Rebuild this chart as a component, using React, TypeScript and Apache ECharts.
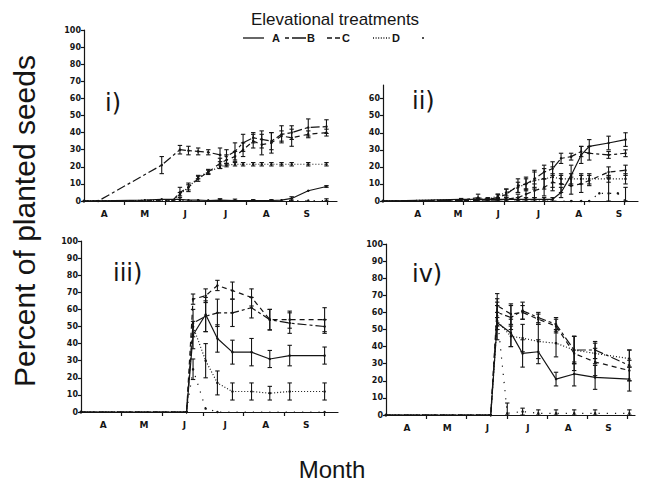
import React, { useEffect, useRef } from "react";
import * as echarts from "echarts";

// x values are months since 1 April (0 = 1 Apr, 1 = 1 May, ... 6 = 1 Oct)
const MONTHS = ["A", "M", "J", "J", "A", "S"];
const SERIES_NAMES = ["A", "B", "C", "D", "E"];

// Each point: [month, percent, error]
// Panel i)
const P1_A = [[0, 0, 0], [1.5, 0.5, 0], [1.92, 1, 0], [2.37, 1, 0], [2.58, 0.5, 0], [2.82, 0.5, 0], [3.07, 0.3, 0], [3.36, 0.5, 0.8], [3.73, 0.3, 0], [4.18, 0.3, 0], [4.63, 0.3, 0], [4.88, 0.5, 0], [5.13, 1.5, 1], [5.54, 6, 0], [5.99, 8.5, 0.5]];
const P1_B = [[0, 0, 0], [0.35, 0, 0], [1.92, 21, 5], [2.37, 30, 2.5], [2.58, 29.5, 2.5], [2.82, 29, 2], [3.07, 28.5, 1.5], [3.36, 27, 4], [3.52, 26, 4], [3.73, 29, 5], [3.93, 34, 5], [4.18, 37, 3], [4.39, 36, 5], [4.63, 35, 5], [4.88, 39, 5], [5.13, 40, 4], [5.54, 43, 5], [5.99, 43.5, 4]];
const P1_C = [[0, 0, 0], [2.2, 0.5, 0], [2.37, 5, 3], [2.58, 8, 2.5], [2.82, 13, 1.5], [3.07, 17, 1.5], [3.36, 22, 3], [3.52, 24, 3], [3.73, 26, 3], [3.93, 30, 4], [4.18, 35, 4], [4.39, 33, 6], [4.63, 34, 6], [4.88, 38, 3], [5.13, 37, 5], [5.54, 39, 2], [5.99, 40, 2]];
const P1_D = [[0, 0, 0], [2.2, 0.5, 0], [2.37, 4, 1], [2.58, 8, 1.5], [2.82, 14, 1], [3.07, 17, 1], [3.36, 20, 1], [3.52, 21, 1], [3.73, 21.5, 1], [3.93, 21.5, 1], [4.18, 21.5, 1], [4.39, 21.5, 1], [4.63, 21.5, 1], [4.88, 21.5, 1], [5.13, 21.5, 1], [5.54, 21.5, 1], [5.99, 21.5, 1]];
const P1_E = [[0, 0, 0], [2.37, 0.3, 0], [3.07, 0.3, 0], [3.36, 0.3, 0.8], [3.73, 0.3, 0.8], [4.18, 0.3, 0.5], [4.63, 0.3, 0.5], [5.13, 0.3, 0], [5.54, 0.3, 0], [5.99, 0.3, 1]];

// Panel ii)
const P2_A = [[0, 0, 0], [1.94, 1, 0.5], [2.36, 1, 0.5], [2.6, 1, 0.5], [2.85, 1, 0.5], [3.06, 1, 1], [3.35, 1, 1], [3.55, 1, 1], [3.76, 1, 1], [4.0, 1, 1], [4.21, 1, 1], [4.42, 5, 3], [4.67, 15, 6], [4.92, 27, 5], [5.12, 32, 4], [5.6, 34, 4], [6.02, 36, 4]];
const P2_B = [[0, 0, 0], [1.94, 0.5, 0], [2.36, 2, 2], [2.6, 1, 1], [2.85, 2, 2], [3.06, 4, 3], [3.35, 9, 4], [3.55, 10, 4], [3.76, 13, 5], [4.0, 17, 4], [4.21, 19, 4], [4.42, 25, 3], [4.67, 26, 2], [4.92, 29, 3], [5.12, 28, 4], [5.6, 27, 2], [6.02, 28, 2]];
const P2_C = [[0, 0, 0], [2.85, 0.5, 0], [3.06, 1, 1], [3.35, 2, 2], [3.55, 4, 3], [3.76, 6, 4], [4.0, 8, 5], [4.21, 11, 5], [4.42, 10, 5], [4.67, 9, 5], [4.92, 10, 5], [5.12, 12, 3], [5.6, 17, 3], [6.02, 18, 3]];
const P2_D = [[0, 0, 0], [2.6, 1, 0], [2.85, 3, 1], [3.06, 5, 2], [3.35, 8, 3], [3.55, 10, 3], [3.76, 12, 5], [4.0, 13, 6], [4.21, 14, 6], [4.42, 13, 3], [4.67, 13, 3], [4.92, 13, 3], [5.12, 13, 3], [5.6, 13, 2], [6.02, 13, 3]];
const P2_E = [[0, 0, 0], [4.67, 0, 0], [4.92, 0, 0], [5.12, 0, 0], [5.37, 4.5, 0], [5.6, 4.5, 9], [5.83, 4.5, 0], [6.02, 0, 8]];

// Panel iii)
const P3_A = [[0, 0, 0], [2.6, 0, 0], [2.76, 45, 8], [3.07, 57, 10], [3.36, 43, 8], [3.73, 35, 7], [4.2, 35, 8], [4.65, 31, 5], [5.14, 33, 6], [6.0, 33, 5]];
const P3_B = [[0, 0, 0], [2.6, 0, 0], [2.76, 52, 8], [3.07, 56, 9], [3.36, 58, 8], [3.73, 58, 8], [4.2, 61, 6], [4.65, 54, 6], [5.14, 52, 6], [6.0, 50, 4]];
const P3_C = [[0, 0, 0], [2.6, 0, 0], [2.76, 66, 3], [3.07, 68, 4], [3.36, 74, 3], [3.73, 71, 5], [4.2, 67, 5], [4.65, 54, 6], [5.14, 54, 5], [6.0, 54, 7]];
const P3_D = [[0, 0, 0], [2.6, 0, 0], [2.76, 50, 0], [3.07, 30, 10], [3.36, 17, 7], [3.73, 12, 5], [4.2, 12, 5], [4.65, 11, 4], [5.14, 12, 5], [6.0, 12, 5]];
const P3_E = [[0, 0, 0], [2.6, 0, 0], [2.76, 25, 6], [3.07, 2, 0], [3.36, 0, 0], [6.0, 0, 0]];

// Panel iv)
const P4_A = [[0, 0, 0], [2.6, 0, 0], [2.76, 54, 10], [3.1, 48, 8], [3.39, 36, 8], [3.78, 37, 7], [4.22, 21, 4], [4.67, 24, 7], [5.19, 22, 7], [6.04, 21, 7]];
const P4_B = [[0, 0, 0], [2.6, 0, 0], [2.76, 60, 8], [3.1, 57, 7], [3.39, 61, 5], [3.78, 57, 3], [4.22, 53, 4], [4.67, 38, 8], [5.19, 38, 5], [6.04, 29, 9]];
const P4_C = [[0, 0, 0], [2.6, 0, 0], [2.76, 64, 7], [3.1, 59, 6], [3.39, 60, 4], [3.78, 56, 3], [4.22, 52, 4], [4.67, 36, 10], [5.19, 31, 8], [6.04, 26, 6]];
const P4_D = [[0, 0, 0], [2.6, 0, 0], [2.76, 55, 5], [3.1, 46, 6], [3.39, 45, 8], [3.78, 43, 10], [4.22, 42, 8], [4.67, 38, 8], [5.19, 36, 6], [6.04, 33, 5]];
const P4_E = [[0, 0, 0], [2.6, 0, 0], [2.76, 58, 8], [3.01, 1, 6], [3.39, 2, 2], [3.78, 1, 2], [4.22, 1, 2], [4.67, 1, 2], [5.19, 1, 2], [6.04, 1, 2]];

const PANEL_DATA = [
  [P1_A, P1_B, P1_C, P1_D, P1_E],
  [P2_A, P2_B, P2_C, P2_D, P2_E],
  [P3_A, P3_B, P3_C, P3_D, P3_E],
  [P4_A, P4_B, P4_C, P4_D, P4_E],
];
const PANEL_TITLES = ["i)", "ii)", "iii)", "iv)"];
const Y_TICKS_100 = [0, 10, 20, 30, 40, 50, 60, 70, 80, 90, 100];
const Y_TICKS_60 = [0, 10, 20, 30, 40, 50, 60];

// layout
const PANELS = [
  { left: 84, top: 30, width: 253, height: 171, xMax: 6.25, yMax: 100, lblOff: 0.5, tx: 105, ty: 103 },
  { left: 383, top: 85, width: 255, height: 116, xMax: 6.33, yMax: 68, lblOff: 0.86, tx: 412, ty: 101 },
  { left: 81, top: 241, width: 257, height: 171, xMax: 6.33, yMax: 100, lblOff: 0.55, tx: 113, ty: 273 },
  { left: 386, top: 244, width: 249, height: 171, xMax: 6.18, yMax: 100, lblOff: 0.52, tx: 412, ty: 274 },
];

const INK = "#151515";
const DASHES: any[] = ["solid", [9, 3, 3, 3], [5, 4], [1, 2], [1.2, 7]];
const LEGEND_DASH: any[] = [null, [4, 3, 14, 0], [5, 3], [1, 1.6], [1.2, 7]];

export default function App() {
  const ref = useRef<HTMLDivElement>(null);
  useEffect(() => {
    document.body.style.margin = "0";
    const chart = echarts.init(ref.current!, null, { renderer: "svg" });
    const grid: any[] = [];
    const xAxis: any[] = [];
    const yAxis: any[] = [];
    const series: any[] = [];
    const tickFont = { fontFamily: "DejaVu Sans", fontWeight: "bold", fontSize: 8, color: INK };
    PANELS.forEach((p, i) => {
      grid.push({ left: p.left, top: p.top, width: p.width, height: p.height, containLabel: false });
      const lblPos = MONTHS.map((_, k) => k + p.lblOff);
      xAxis.push({
        type: "value", gridIndex: i, min: 0, max: p.xMax,
        axisLine: { show: true, lineStyle: { color: INK, width: 1.2 } },
        axisTick: { show: true, customValues: [1, 2, 3, 4, 5, 6], length: 4, lineStyle: { color: INK, width: 1.2 } },
        axisLabel: {
          show: true, customValues: lblPos, margin: 8,
          formatter: (v: number) => {
            let best = 0;
            lblPos.forEach((q, k) => { if (Math.abs(q - v) < Math.abs(lblPos[best] - v)) best = k; });
            return MONTHS[best];
          },
          ...tickFont, fontSize: 9,
        },
        splitLine: { show: false },
      });
      const yt = p.yMax === 100 ? Y_TICKS_100 : Y_TICKS_60;
      yAxis.push({
        type: "value", gridIndex: i, min: 0, max: p.yMax,
        axisLine: { show: true, lineStyle: { color: INK, width: 1.2 } },
        axisTick: { show: true, customValues: yt, length: 3, lineStyle: { color: INK, width: 1.2 } },
        axisLabel: { show: true, customValues: yt, margin: 3, ...tickFont },
        splitLine: { show: false },
      });
      const errData: number[][] = [];
      PANEL_DATA[i].forEach((d, s) => {
        series.push({
          type: "line", name: SERIES_NAMES[s], xAxisIndex: i, yAxisIndex: i,
          data: d.map((pt) => [pt[0], pt[1]]),
          symbol: "circle", symbolSize: 2.5, showSymbol: true,
          itemStyle: { color: INK },
          lineStyle: { color: INK, width: 1.2, type: DASHES[s] },
          silent: true, z: 3,
        });
        d.forEach((pt) => {
          if (pt[2] > 0) errData.push([pt[0], Math.max(0, pt[1] - pt[2]), pt[1] + pt[2]]);
        });
      });
      series.push({
        type: "custom", xAxisIndex: i, yAxisIndex: i, data: errData, silent: true, z: 4,
        encode: { x: 0, y: [1, 2] },
        renderItem: (params: any, api: any) => {
          const x = api.value(0);
          const a = api.coord([x, api.value(1)]);
          const b = api.coord([x, api.value(2)]);
          const cw = 2.2;
          const st = { stroke: INK, lineWidth: 1.1 };
          return {
            type: "group",
            children: [
              { type: "line", shape: { x1: a[0], y1: a[1], x2: b[0], y2: b[1] }, style: st },
              { type: "line", shape: { x1: a[0] - cw, y1: a[1], x2: a[0] + cw, y2: a[1] }, style: st },
              { type: "line", shape: { x1: b[0] - cw, y1: b[1], x2: b[0] + cw, y2: b[1] }, style: st },
            ],
          };
        },
      });
    });

    const graphic: any[] = [
      { type: "text", x: 335, y: 19, style: { text: "Elevational treatments", font: "17px 'Liberation Sans'", fill: INK, align: "center", verticalAlign: "middle" } },
      { type: "text", x: 24, y: 221, rotation: Math.PI / 2, style: { text: "Percent of planted seeds", font: "30px 'Liberation Sans'", fill: INK, align: "center", verticalAlign: "middle" } },
      { type: "text", x: 332, y: 469, style: { text: "Month", font: "24px 'Liberation Sans'", fill: INK, align: "center", verticalAlign: "middle" } },
      // legend
      { type: "line", shape: { x1: 243, y1: 38, x2: 264, y2: 38 }, style: { stroke: INK, lineWidth: 1.3 } },
      { type: "text", x: 276, y: 38, style: { text: "A", font: "bold 11px 'Liberation Sans'", fill: INK, align: "center", verticalAlign: "middle" } },
      { type: "line", shape: { x1: 285, y1: 38, x2: 306, y2: 38 }, style: { stroke: INK, lineWidth: 1.3, lineDash: LEGEND_DASH[1] } },
      { type: "text", x: 311, y: 38, style: { text: "B", font: "bold 11px 'Liberation Sans'", fill: INK, align: "center", verticalAlign: "middle" } },
      { type: "line", shape: { x1: 327, y1: 38, x2: 340, y2: 38 }, style: { stroke: INK, lineWidth: 1.3, lineDash: LEGEND_DASH[2] } },
      { type: "text", x: 346, y: 38, style: { text: "C", font: "bold 11px 'Liberation Sans'", fill: INK, align: "center", verticalAlign: "middle" } },
      { type: "line", shape: { x1: 373, y1: 38, x2: 390, y2: 38 }, style: { stroke: INK, lineWidth: 1.3, lineDash: LEGEND_DASH[3] } },
      { type: "text", x: 396, y: 38, style: { text: "D", font: "bold 11px 'Liberation Sans'", fill: INK, align: "center", verticalAlign: "middle" } },
      { type: "line", shape: { x1: 422, y1: 38, x2: 424, y2: 38 }, style: { stroke: INK, lineWidth: 1.3 } },
    ];
    PANELS.forEach((p, i) => {
      graphic.push({ type: "text", x: p.tx, y: p.ty, style: { text: PANEL_TITLES[i], font: "24px 'DejaVu Sans'", fill: INK, align: "left", verticalAlign: "middle" } });
    });

    chart.setOption({
      animation: false,
      backgroundColor: "#ffffff",
      grid, xAxis, yAxis, series, graphic,
    });
    return () => chart.dispose();
  }, []);
  return <div ref={ref} style={{ width: 646, height: 483 }} />;
}
